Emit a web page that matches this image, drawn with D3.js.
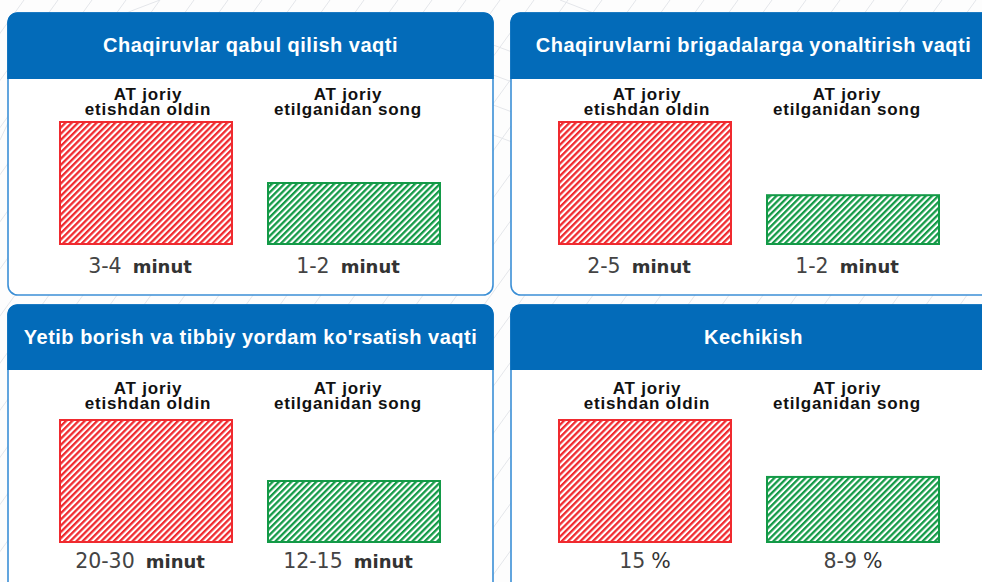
<!DOCTYPE html>
<html>
<head>
<meta charset="utf-8">
<script src="https://cdn.jsdelivr.net/npm/d3@7"></script>
<style>
  html, body { margin: 0; padding: 0; background: #fdfdfd; }
  svg { display: block; }
</style>
</head>
<body>
<svg id="chart" width="982" height="582"></svg>
<script>
// Panel titles, left-to-right then top-to-bottom
const panelTitles = [
  "Chaqiruvlar qabul qilish vaqti",
  "Chaqiruvlarni brigadalarga yonaltirish vaqti",
  "Yetib borish va tibbiy yordam ko'rsatish vaqti",
  "Kechikish"
];
// Two compared states (two-line category captions)
const categories = ["before", "after"];
const categoryLine1 = ["AT joriy", "AT joriy"];
const categoryLine2 = ["etishdan oldin", "etilganidan song"];
// Values per panel
const beforeValues = [4, 5, 30, 15];
const afterValues = [2, 2, 15, 8];
const beforeLabels = ["3-4", "2-5", "20-30", "15"];
const afterLabels = ["1-2", "1-2", "12-15", "8-9"];
const units = ["minut", "minut", "minut", "%"];

const svg = d3.select("#chart");
const W = 982, H = 582;

// Layout
const colX = [8, 511];
const colInset = [52, 48];
const panelW = 485;
const rows = [
  { top: 13, bottom: 295, hdr: 66, lab: 100, base: 244, val: 273 },
  { top: 305, bottom: 598, hdr: 65, lab: 394, base: 542, val: 568 }
];
const barMaxH = 122;
const radius = 10;

const BLUE = "#036bb9";
const BORDER = "#3b8fd6";
const RED = "#f02a2f";
const GREEN = "#139a47";

// Hatch patterns
const defs = svg.append("defs");
function hatch(id, color) {
  const p = defs.append("pattern")
    .attr("id", id)
    .attr("patternUnits", "userSpaceOnUse")
    .attr("width", 4.4).attr("height", 4.4)
    .attr("patternTransform", "rotate(45)");
  p.append("rect").attr("width", 4.4).attr("height", 4.4).attr("fill", "#fff");
  p.append("line")
    .attr("x1", 1.1).attr("y1", -1).attr("x2", 1.1).attr("y2", 6)
    .attr("stroke", color).attr("stroke-width", 2.4);
}
hatch("hatch-red", RED);
hatch("hatch-green", GREEN);

// Faint decorative background lines
const bg = svg.append("g").attr("stroke", "#e4e6ea").attr("stroke-width", 1).attr("fill", "none");
d3.range(-600, 1200, 34).forEach(x0 => {
  bg.append("line").attr("x1", x0).attr("y1", H).attr("x2", x0 + 420).attr("y2", 0);
});
bg.append("path").attr("d", "M0,140 Q40,40 160,0");
bg.append("path").attr("d", "M560,0 Q640,30 700,60");
bg.append("path").attr("d", "M480,40 L560,70");
bg.append("path").attr("d", "M480,70 L560,100");
bg.append("path").attr("d", "M480,100 L560,130");
bg.append("path").attr("d", "M480,130 L560,160");

// Rounded-rect path with selectable rounded corners
function roundedPath(x, y, w, h, r, tl, tr, br, bl) {
  const p = d3.path();
  p.moveTo(x + (tl ? r : 0), y);
  p.lineTo(x + w - (tr ? r : 0), y);
  if (tr) p.arcTo(x + w, y, x + w, y + r, r);
  p.lineTo(x + w, y + h - (br ? r : 0));
  if (br) p.arcTo(x + w, y + h, x + w - r, y + h, r);
  p.lineTo(x + (bl ? r : 0), y + h);
  if (bl) p.arcTo(x, y + h, x, y + h - r, r);
  p.lineTo(x, y + (tl ? r : 0));
  if (tl) p.arcTo(x, y, x + r, y, r);
  p.closePath();
  return p.toString();
}

panelTitles.forEach((title, i) => {
  const row = rows[Math.floor(i / 2)];
  const col = i % 2;
  const x0 = colX[col];
  const g = svg.append("g");

  // Panel body
  g.append("path")
    .attr("d", roundedPath(x0, row.top, panelW, row.bottom - row.top, radius, true, true, true, true))
    .attr("fill", "#ffffff")
    .attr("stroke", BORDER)
    .attr("stroke-width", 1.6);

  // Header band
  g.append("path")
    .attr("d", roundedPath(x0 - 0.8, row.top - 0.8, panelW + 1.6, row.hdr + 0.8, radius, true, true, false, false))
    .attr("fill", BLUE);

  g.append("text")
    .attr("x", x0 + panelW / 2)
    .attr("y", row.top + 39)
    .attr("text-anchor", "middle")
    .attr("font-family", "'Liberation Sans', Arial, sans-serif")
    .attr("font-weight", "bold")
    .attr("font-size", 20)
    .attr("letter-spacing", 0.5)
    .attr("fill", "#ffffff")
    .text(title);

  // Scales for this panel
  const x = d3.scaleBand()
    .domain(categories)
    .range([x0 + colInset[col], x0 + colInset[col] + 380])
    .paddingInner(36 / 208)
    .paddingOuter(0);
  const y = d3.scaleLinear()
    .domain([0, Math.max(beforeValues[i], afterValues[i])])
    .range([row.base, row.base - barMaxH]);

  const data = [
    { cat: "before", value: beforeValues[i], label: beforeLabels[i], fill: "url(#hatch-red)", stroke: RED, l1: categoryLine1[0], l2: categoryLine2[0], capShift: 2 },
    { cat: "after", value: afterValues[i], label: afterLabels[i], fill: "url(#hatch-green)", stroke: GREEN, l1: categoryLine1[1], l2: categoryLine2[1], capShift: -6 }
  ];

  g.selectAll("rect.bar")
    .data(data)
    .join("rect")
    .attr("class", "bar")
    .attr("x", d => x(d.cat))
    .attr("width", x.bandwidth())
    .attr("y", d => y(d.value))
    .attr("height", d => y(0) - y(d.value))
    .attr("fill", d => d.fill)
    .attr("stroke", d => d.stroke)
    .attr("stroke-width", 2);

  // Category captions
  const cap = g.selectAll("text.cap")
    .data(data)
    .join("text")
    .attr("class", "cap")
    .attr("text-anchor", "middle")
    .attr("font-family", "'Liberation Sans', Arial, sans-serif")
    .attr("font-weight", "bold")
    .attr("font-size", 17)
    .attr("letter-spacing", 0.8)
    .attr("fill", "#111");
  cap.append("tspan")
    .attr("x", d => x(d.cat) + x.bandwidth() / 2 + d.capShift)
    .attr("y", row.lab)
    .text(d => d.l1);
  cap.append("tspan")
    .attr("x", d => x(d.cat) + x.bandwidth() / 2 + d.capShift)
    .attr("y", row.lab + 14.5)
    .text(d => d.l2);

  // Value captions: number + unit
  const isPct = units[i] === "%";
  const val = g.selectAll("text.val")
    .data(data)
    .join("text")
    .attr("class", "val")
    .attr("x", d => x(d.cat) + x.bandwidth() / 2 + (isPct ? 0 : -6))
    .attr("y", row.val)
    .attr("text-anchor", "middle")
    .attr("font-family", "'DejaVu Sans', Verdana, sans-serif")
    .attr("font-size", 20.5)
    .attr("fill", "#444");
  val.append("tspan").text(d => d.label);
  val.append("tspan")
    .attr("dx", isPct ? 6 : 11)
    .attr("font-weight", isPct ? "normal" : "bold")
    .attr("font-size", isPct ? 20.5 : 18)
    .attr("fill", "#333")
    .text(units[i]);
});
</script>
</body>
</html>
